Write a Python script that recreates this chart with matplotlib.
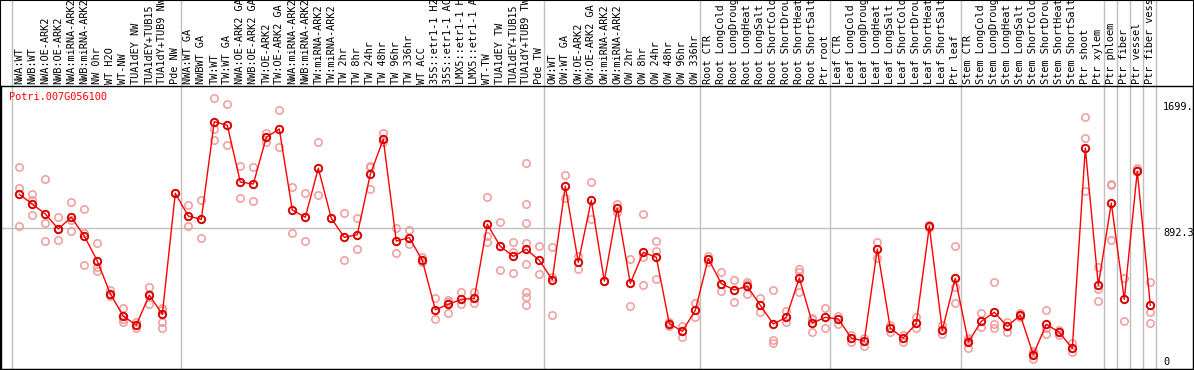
import matplotlib
matplotlib.use("Agg")
import matplotlib.pyplot as plt
from matplotlib.patches import Rectangle

plt.rcParams['font.family'] = ['DejaVu Sans Mono']

gene = "Potri.007G056100"

labels = [
    "NWA:WT", "NWB:WT", "NWA:OE-ARK2", "NWB:OE-ARK2", "NWA:miRNA-ARK2",
    "NWB:miRNA-ARK2", "NW 0hr", "WT H2O", "WT-NW", "TUA1dEY NW",
    "TUA1dEY+TUB15", "TUA1dY+TUB9 NW", "Pde NW",
    "NWA:WT GA", "NWBWT GA", "TW:WT", "TW:WT GA", "NWA:OE-ARK2 GA",
    "NWB:OE-ARK2 GA", "TW:OE-ARK2", "TW:OE-ARK2 GA", "NWA:miRNA-ARK2",
    "NWB:miRNA-ARK2", "TW:miRNA-ARK2", "TW:miRNA-ARK2", "TW 2hr", "TW 8hr",
    "TW 24hr", "TW 48hr", "TW 96hr", "TW 336hr", "WT ACC",
    "35S::etr1-1 H2O", "35S::etr1-1 ACC", "LMX5::etr1-1 H2O",
    "LMX5::etr1-1 ACC", "WT-TW", "TUA1dEY TW", "TUA1dEY+TUB15",
    "TUA1dY+TUB9 TW", "Pde TW",
    "OW:WT", "OW:WT GA", "OW:OE-ARK2", "OW:OE-ARK2 GA", "OW:miRNA-ARK2",
    "OW:miRNA-ARK2", "OW 2hr", "OW 8hr", "OW 24hr", "OW 48hr", "OW 96hr",
    "OW 336hr",
    "Root CTR", "Root LongCold", "Root LongDrought", "Root LongHeat",
    "Root LongSalt", "Root ShortCold", "Root ShortDrought", "Root ShortHeat",
    "Root ShortSalt", "Ptr root",
    "Leaf CTR", "Leaf LongCold", "Leaf LongDrought", "Leaf LongHeat",
    "Leaf LongSalt", "Leaf ShortCold", "Leaf ShortDrought", "Leaf ShortHeat",
    "Leaf ShortSalt", "Ptr leaf",
    "Stem CTR", "Stem LongCold", "Stem LongDrought", "Stem LongHeat",
    "Stem LongSalt", "Stem ShortCold", "Stem ShortDrought", "Stem ShortHeat",
    "Stem ShortSalt", "Ptr shoot", "Ptr xylem", "Ptr phloem", "Ptr fiber",
    "Ptr vessel", "Ptr fiber vessel",
]

means = [
    1119, 1054, 988, 888, 966, 841, 674, 456, 305, 247, 447, 318, 1126,
    974, 952, 1604, 1580, 1201, 1188, 1500, 1555, 1014, 966, 1293, 959, 832,
    850, 1253, 1486, 807, 830, 679, 349, 385, 418, 425, 919, 772, 705, 752, 679,
    549, 1173, 665, 1079, 541, 1026, 525, 732, 699, 256, 205, 345,
    690, 523, 481, 505, 378, 254, 298, 561, 260, 298,
    287, 160, 140, 754, 225, 160, 258, 905, 212, 559,
    133, 271, 332, 238, 312, 49, 252, 198, 91, 1428, 512, 1061, 418, 1273, 378,
]

reps = [
    [1299, 1161, 905], [1121, 1081, 981], [1219, 925, 807], [966, 812, 886],
    [1068, 945, 872], [1019, 645, 859], [792, 636, 609], [481, 447, 440],
    [362, 265, 288], [269, 225, 247], [500, 385, 456], [362, 347, 269, 225],
    [1126],
    [1046, 905], [1079, 830], [1760, 1553, 1482], [1720, 1446], [1306, 1094],
    [1299, 1072], [1530, 1470], [1682, 1433], [1166, 859], [1126, 807],
    [1466, 1112], [959], [992, 679], [959, 752], [1301, 1152, 1306],
    [1526, 1470], [892, 725], [879, 785], [703, 665], [425, 285],
    [414, 402, 329], [465, 385], [465, 396], [1099, 841, 803], [934, 612],
    [799, 736, 592], [1326, 1052, 925, 794, 652, 469, 434, 378], [772, 585],
    [765, 314, 569], [1248, 1092], [709, 619], [1199, 952], [541],
    [1054, 1003], [685, 372], [986, 703, 512], [805, 743, 552], [265, 238],
    [242, 165], [394, 298],
    [709, 669], [599, 472], [547, 398], [534, 452, 519], [427, 336],
    [478, 147, 129], [340, 265], [623, 601, 465], [285, 202, 295], [358, 227],
    [307, 252], [136, 180], [158, 109], [799, 696], [247, 202],
    [136, 180], [302, 225], [914, 896], [247, 189], [772, 503, 392],
    [147, 91, 161], [325, 236], [532, 252, 225], [265, 198], [329, 302],
    [58, 18, 71], [345, 225, 185], [216, 180], [127, 65],
    [1633, 1493, 1143], [636, 487, 405], [1186, 1181, 812], [563, 272],
    [1297, 1281], [532, 336, 260],
]

group_ends = [-1, 12, 40, 52, 62, 72, 83, 84, 85, 86, 87]
yticks = [0, 892.3, 1699]
ytick_text = ["0", "892.3", "1699."]

W, H = 1194, 370
fig = plt.figure(figsize=(W / 100, H / 100), dpi=100)

# pixel layout of the plot box
left_px, right_px, top_px, bot_px = 1, 1193, 86, 369
ax = fig.add_axes([left_px / W, (H - bot_px) / H,
                   (right_px - left_px) / W, (bot_px - top_px) / H])

x0, dx = 19.3, 13.0          # pixel of first sample, pixel step
y0, dy = 362.0, 0.14984      # pixel of value 0, pixels per unit
ax.set_xlim((left_px - x0) / dx, (right_px - x0) / dx)
ax.set_ylim((y0 - bot_px) / dy, (y0 - top_px) / dy)
ax.set_xticks([])
ax.set_yticks([])
for s in ax.spines.values():
    s.set_color("black")
    s.set_linewidth(1)

grid_c = "#c0c0c0"
ytop = 1 + top_px / (bot_px - top_px)
for g in group_ends:
    ax.axvline(g + 0.4, ymin=0, ymax=ytop, color=grid_c, lw=1,
               clip_on=False, zorder=0)
ax.hlines(892.3, ax.get_xlim()[0], (1160 - x0) / dx, color=grid_c, lw=1,
          zorder=0)

xs = list(range(len(means)))
for i, r in enumerate(reps):
    ax.plot([i] * len(r), r, ls="none", marker="o", ms=5.3, mfc="none",
            mec="#f09a9a", mew=1.1, zorder=2)
ax.plot(xs, means, color="red", lw=1, zorder=3)
ax.plot(xs, means, ls="none", marker="o", ms=5.3, mfc="none",
        mec="#d80000", mew=1.4, zorder=4)

trans = ax.get_xaxis_transform()
for i, lab in enumerate(labels):
    ax.text(i, 1 + 2 / (bot_px - top_px), lab, transform=trans, rotation=90,
            ha="center", va="bottom", fontsize=7.4, color="black")

ax.text((9.3 - x0) / dx, (y0 - 97.3) / dy, gene, color="red", fontsize=7.4,
        ha="left", va="center")

tx = (1163 - x0) / dx
for v, t in zip(yticks, ytick_text):
    ax.text(tx, v, t, fontsize=7.4, ha="left",
            va="top" if t == "892.3" else "center", color="black")

fig.patches.append(Rectangle((0, 0), 1, 1, transform=fig.transFigure,
                             fill=False, ec="black", lw=1.5))

fig.savefig("out.png", dpi=100)
